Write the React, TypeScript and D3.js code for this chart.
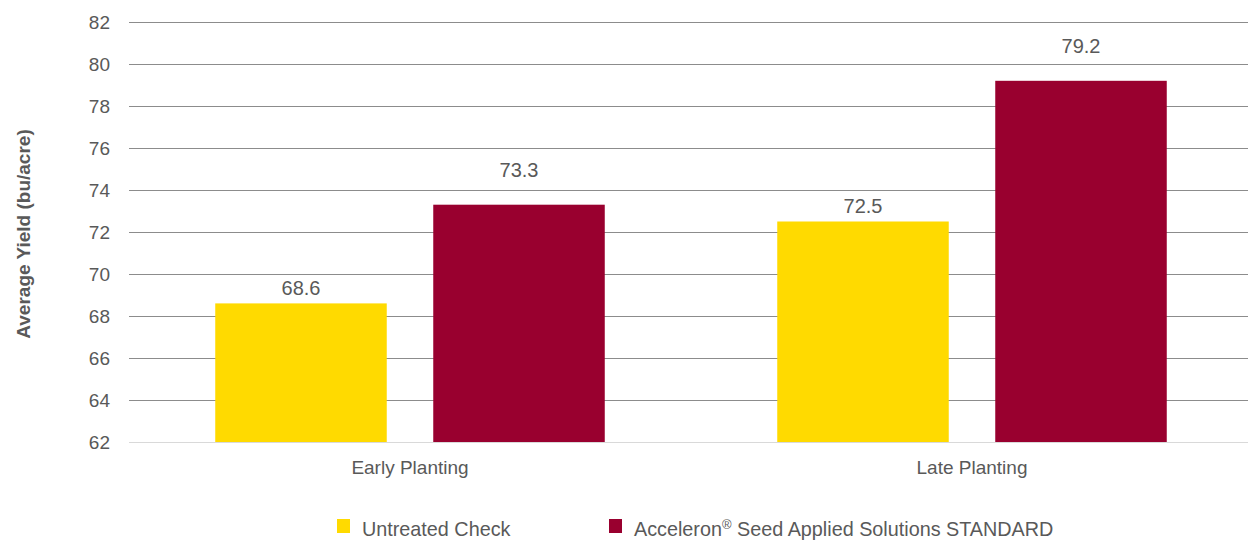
import { scaleBand, scaleLinear, range } from "d3";
import { useEffect } from "react";

const categories = ["Early Planting", "Late Planting"];
const seriesNames = ["Untreated Check", "Acceleron® Seed Applied Solutions STANDARD"];
const untreated = [68.6, 72.5];
const acceleron = [73.3, 79.2];
const yTicks = range(62, 83, 2);

const colors = ["#FFDA00", "#99002F"];
const labelGap = [8.5, 27.5];

const W = 1248;
const H = 541;
const margin = { top: 22, bottom: 99, left: 129 };
const FONT = "'Liberation Sans', Arial, sans-serif";
const TEXT = "#595959";

export default function App() {
  useEffect(() => {
    document.body.style.margin = "0";
  }, []);

  const y = scaleLinear().domain([62, 82]).range([H - margin.bottom, margin.top]);
  // plot area runs slightly past the right edge of the picture
  const x = scaleBand().domain(categories).range([margin.left, margin.left + 1124]);
  const x1 = scaleBand<number>()
    .domain([0, 1])
    .range([0, x.bandwidth()])
    .paddingInner(0.2133)
    .paddingOuter(0.3956);

  const series = [untreated, acceleron];

  return (
    <svg width={W} height={H} style={{ display: "block" }} fontFamily={FONT}>
      {yTicks.map((t) => (
        <g key={`tick-${t}`}>
          <line
            x1={margin.left}
            x2={W}
            y1={y(t)}
            y2={y(t)}
            stroke={t === 62 ? "#d9d9d9" : "#8c8c8c"}
            strokeWidth={1}
            shapeRendering="crispEdges"
          />
          <text x={110} y={y(t)} dy="0.35em" textAnchor="end" fontSize={19} fill={TEXT}>
            {t}
          </text>
        </g>
      ))}

      {categories.map((c, ci) =>
        series.map((vals, si) => {
          const bx = (x(c) ?? 0) + (x1(si) ?? 0);
          const v = vals[ci];
          return (
            <g key={`bar-${c}-${si}`}>
              <rect
                x={bx}
                y={y(v)}
                width={x1.bandwidth()}
                height={y(62) - y(v)}
                fill={colors[si]}
              />
              <text
                x={bx + x1.bandwidth() / 2}
                y={y(v) - labelGap[si]}
                textAnchor="middle"
                fontSize={20}
                fill={TEXT}
              >
                {v.toFixed(1)}
              </text>
            </g>
          );
        })
      )}

      {categories.map((c) => (
        <text
          key={`cat-${c}`}
          x={(x(c) ?? 0) + x.bandwidth() / 2}
          y={474}
          textAnchor="middle"
          fontSize={19}
          fill={TEXT}
        >
          {c}
        </text>
      ))}

      <text
        transform={`translate(30, ${234}) rotate(-90)`}
        textAnchor="middle"
        fontSize={19}
        fontWeight="bold"
        fill={TEXT}
      >
        Average Yield (bu/acre)
      </text>

      {seriesNames.map((name, i) => {
        const lx = [337, 609][i];
        return (
          <g key={`leg-${i}`}>
            <rect x={lx} y={519} width={13} height={14} fill={colors[i]} />
            <text x={lx + 25} y={536} fontSize={19.8} fill={TEXT}>
              {i === 1 ? (
                <>
                  Acceleron<tspan fontSize={13} dy={-7}>®</tspan>
                  <tspan dy={7}> Seed Applied Solutions STANDARD</tspan>
                </>
              ) : (
                name
              )}
            </text>
          </g>
        );
      })}
    </svg>
  );
}
